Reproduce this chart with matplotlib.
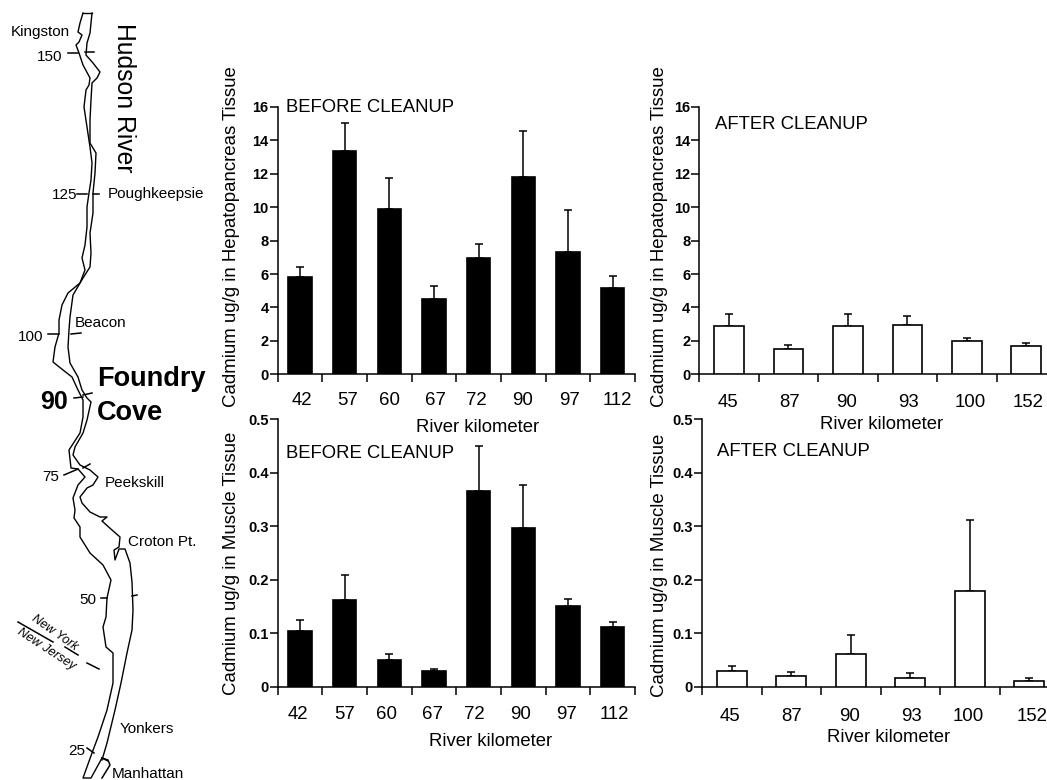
import matplotlib
matplotlib.use('Agg')
import matplotlib.pyplot as plt

plt.rcParams['font.family'] = ['Liberation Sans', 'DejaVu Sans']

W, H = 1047, 780

km_before = ['42', '57', '60', '67', '72', '90', '97', '112']
km_after = ['45', '87', '90', '93', '100', '152']

hepato_before = [5.84, 13.35, 9.92, 4.5, 6.95, 11.83, 7.31, 5.18]
hepato_before_top = [6.43, 15.04, 11.75, 5.3, 7.77, 14.58, 9.82, 5.9]
hepato_after = [2.88, 1.54, 2.88, 2.96, 1.98, 1.68]
hepato_after_top = [3.62, 1.76, 3.62, 3.46, 2.2, 1.9]
muscle_before = [0.105, 0.163, 0.05, 0.03, 0.365, 0.297, 0.151, 0.112]
muscle_before_top = [0.124, 0.209, 0.061, 0.034, 0.451, 0.377, 0.164, 0.121]
muscle_after = [0.029, 0.02, 0.061, 0.016, 0.179, 0.011]
muscle_after_top = [0.038, 0.027, 0.096, 0.025, 0.312, 0.016]

hepato_ticks = [0, 2, 4, 6, 8, 10, 12, 14, 16]
muscle_ticks = [0, 0.1, 0.2, 0.3, 0.4, 0.5]
muscle_tick_labels = ['0', '0.1', '0.2', '0.3', '0.4', '0.5']

# river outline, in image pixels
west_bank = [(83, 13), (80, 23), (78, 32), (82, 35), (79, 42), (76, 45), (79, 53), (83, 65),
             (90, 78), (89, 85), (86, 90), (84, 107), (87, 127), (90, 147), (92, 163), (91, 180),
             (89, 193), (87, 207), (87, 227), (85, 245), (82, 258), (85, 270), (80, 283), (68, 293),
             (62, 305), (59, 320), (59, 333), (55, 347), (53, 362), (63, 370), (72, 377), (78, 390),
             (83, 400), (83, 417), (80, 433), (69, 450), (71, 468), (78, 469), (85, 477), (78, 485),
             (73, 498), (75, 510), (74, 518), (80, 527), (80, 537), (90, 553), (103, 565), (111, 580),
             (107, 598), (106, 617), (103, 627), (106, 647), (113, 653), (113, 683), (107, 710),
             (98, 737), (92, 753), (83, 778), (91, 778), (102, 758)]
east_bank = [(92, 13), (91, 23), (90, 33), (87, 43), (86, 55), (93, 63), (100, 72), (97, 78),
             (92, 83), (91, 100), (90, 120), (90, 143), (96, 153), (95, 173), (93, 193), (93, 213),
             (90, 233), (91, 253), (90, 267), (83, 278), (73, 295), (70, 317), (69, 330), (68, 347),
             (70, 363), (78, 377), (82, 390), (87, 398), (91, 402), (87, 420), (83, 433), (75, 447),
             (73, 455), (80, 465), (90, 470), (98, 477), (93, 485), (87, 488), (80, 497), (82, 503),
             (90, 512), (100, 517), (107, 517), (102, 521), (112, 530), (120, 537), (119, 547),
             (114, 550), (115, 560), (119, 549), (125, 549), (130, 563), (132, 582), (133, 610),
             (132, 630), (127, 653), (121, 683), (115, 710), (107, 743), (102, 760)]
manhattan = [(102, 758), (108, 760), (110, 765), (102, 778)]
map_marks = [((68, 53), (78, 53)), ((85, 52), (94, 52)), ((77, 194), (87, 194)), ((93, 194), (99, 194)),
             ((48, 334), (59, 334)), ((71, 334), (81, 333)), ((74, 398), (83, 397)), ((83, 395), (92, 393)),
             ((64, 475), (78, 469)), ((83, 468), (90, 464)), ((101, 598), (107, 598)), ((132, 596), (137, 595)),
             ((18, 622), (53, 642)), ((65, 647), (78, 655)), ((87, 663), (99, 669)), ((87, 748), (94, 753)),
             ((102, 758), (108, 761))]
map_labels = [('Kingston', 40, 32), ('150', 50, 57), ('Poughkeepsie', 156, 194), ('125', 65, 195),
              ('Beacon', 101, 323), ('100', 31, 337), ('Peekskill', 135, 483), ('75', 51, 477),
              ('Croton Pt.', 162, 542), ('50', 88, 600), ('Yonkers', 147, 729), ('25', 77, 751),
              ('Manhattan', 148, 774)]


def add_panel(fig, left, right, top, bottom, ymax, yticks, ylabels, xlabels, label_px, pad, vals, tops,
              color, bar_w, ylab, ylab_xy, title, title_xy, xlab_xy):
    ax = fig.add_axes([left / W, 1 - bottom / H, (right - left) / W, (bottom - top) / H])
    n = len(vals)
    xs = [i + 0.5 for i in range(n)]
    ax.bar(xs, vals, width=bar_w, color=color, edgecolor='black', linewidth=1.2, zorder=3)
    errs = [t - v for t, v in zip(tops, vals)]
    ax.errorbar(xs, vals, yerr=[[0] * n, errs], fmt='none', ecolor='black', elinewidth=1.1,
                capsize=3, capthick=1.1, zorder=2)
    ax.set_xlim(0, n)
    ax.set_ylim(0, ymax)
    ax.spines['top'].set_visible(False)
    ax.spines['right'].set_visible(False)
    ax.spines['left'].set_linewidth(1.1)
    ax.spines['bottom'].set_linewidth(1.1)
    ax.set_xticks(range(n + 1))
    ax.set_xticklabels([])
    ax.tick_params(axis='x', which='major', length=5.5, width=1.1)
    step = (right - left) / n
    ax.set_xticks([(p - left) / step for p in label_px], xlabels, minor=True)
    ax.tick_params(axis='x', which='minor', length=0, pad=pad, labelsize=13.4)
    ax.set_yticks(yticks, ylabels, fontweight='bold')
    ax.tick_params(axis='y', length=5.5, width=1.1, pad=1, labelsize=10.5)
    ax.text((title_xy[0] - left) / (right - left), (bottom - title_xy[1]) / (bottom - top), title,
            transform=ax.transAxes, fontsize=13.3, va='center', ha='left')
    fig.text(ylab_xy[0] / W, 1 - ylab_xy[1] / H, ylab, rotation=90, fontsize=13.4, va='center', ha='center')
    fig.text(xlab_xy[0] / W, 1 - xlab_xy[1] / H, 'River kilometer', fontsize=13.3, va='center', ha='center')
    return ax


fig = plt.figure(figsize=(W / 100, H / 100), dpi=100)

add_panel(fig, 277.7, 635, 107, 374.3, 16, hepato_ticks, [str(t) for t in hepato_ticks], km_before,
          [301.7, 348, 389, 435, 476.7, 523, 569, 617.7], 13, hepato_before, hepato_before_top, 'black', 0.52,
          'Cadmium ug/g in Hepatopancreas Tissue', (231, 237), 'BEFORE CLEANUP', (286, 107.5), (478, 427))
add_panel(fig, 699.3, 1056, 107, 374.3, 16, hepato_ticks, [str(t) for t in hepato_ticks], km_after,
          [727.7, 789.3, 846.7, 908.3, 970, 1028.3], 14.5, hepato_after, hepato_after_top, 'white', 0.5,
          'Cadmium ug/g in Hepatopancreas Tissue', (659, 237), 'AFTER CLEANUP', (715, 124.5), (882, 425))
add_panel(fig, 277.7, 635, 419.3, 686.7, 0.5, muscle_ticks, muscle_tick_labels, km_before,
          [298.3, 344.3, 386.3, 432.3, 474.3, 520.7, 566.7, 614.3], 14, muscle_before, muscle_before_top, 'black', 0.52,
          'Cadmium ug/g in Muscle Tissue', (231, 563), 'BEFORE CLEANUP', (286, 453.5), (491, 741))
add_panel(fig, 702, 1059, 419.3, 686.7, 0.5, muscle_ticks, muscle_tick_labels, km_after,
          [730, 792, 849.3, 911.7, 968.3, 1031.7], 15.5, muscle_after, muscle_after_top, 'white', 0.5,
          'Cadmium ug/g in Muscle Tissue', (659, 565), 'AFTER CLEANUP', (717, 451.5), (889, 738))

# map drawn on a full-figure axes in pixel coordinates
m = fig.add_axes([0, 0, 1, 1], facecolor='none')
m.set_xlim(0, W)
m.set_ylim(H, 0)
m.axis('off')
m.plot([p[0] for p in west_bank], [p[1] for p in west_bank], color='black', lw=1.0)
m.plot([p[0] for p in east_bank], [p[1] for p in east_bank], color='black', lw=1.0)
m.plot([p[0] for p in manhattan], [p[1] for p in manhattan], color='black', lw=1.1)
m.plot([83, 92], [13, 13], color='black', lw=1.0)
for a, b in map_marks:
    m.plot([a[0], b[0]], [a[1], b[1]], color='black', lw=1.1)
for name, x, y in map_labels:
    m.text(x, y, name, fontsize=11, ha='center', va='center')
m.text(124, 98, 'Hudson River', fontsize=17.8, rotation=-90, ha='center', va='center')
m.text(97, 379, 'Foundry', fontsize=19.5, fontweight='bold', ha='left', va='center')
m.text(97, 413, 'Cove', fontsize=19.5, fontweight='bold', ha='left', va='center')
m.text(54, 402, '90', fontsize=18, fontweight='bold', ha='center', va='center')
m.text(55, 633, 'New York', fontsize=9, style='italic', rotation=-35, ha='center', va='center')
m.text(46, 649, 'New Jersey', fontsize=9.2, style='italic', rotation=-33, ha='center', va='center')

fig.savefig('out.png', dpi=100)
